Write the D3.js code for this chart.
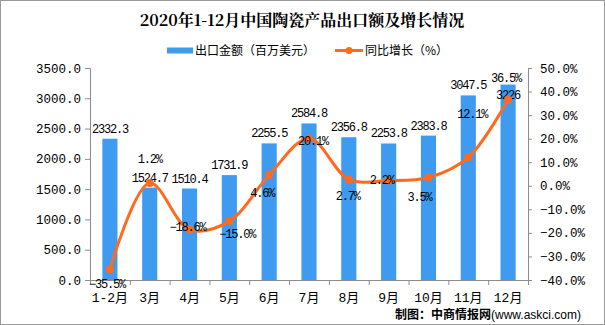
<!DOCTYPE html>
<html><head><meta charset="utf-8">
<script src="https://cdn.jsdelivr.net/npm/d3@7"></script>
<style>body{margin:0;background:#fff}svg{display:block}</style>
</head><body>
<svg id="c" width="605" height="325"></svg>
<script>
const categories = ["1-2月","3月","4月","5月","6月","7月","8月","9月","10月","11月","12月"];
const exportValues = [2332.3,1524.7,1510.4,1731.9,2255.5,2584.8,2356.8,2253.8,2383.8,3047.5,3226];
const exportLabels = ["2332.3","1524.7","1510.4","1731.9","2255.5","2584.8","2356.8","2253.8","2383.8","3047.5","3226"];
const growthValues = [-35.5,1.2,-18.6,-15.0,4.6,20.1,2.7,2.2,3.5,12.1,36.5];
const leftTicks = [0,500,1000,1500,2000,2500,3000,3500];
const rightTicks = [-40,-30,-20,-10,0,10,20,30,40,50];
// label offsets (dx, dy) for growth labels (style only)
const growthLabelOffsets = [[-3,15],[0,-24],[-2,-3],[8,13],[-7,18],[4,3],[-1,17],[-7,-1],[-9,19],[4,-43],[-2,-22]];

const svg = d3.select("#c");
const mono = "'Liberation Mono','Noto Sans CJK SC',monospace";
const cjk = "'Noto Sans CJK SC','Liberation Mono',sans-serif";

svg.append("rect").attr("x",0.5).attr("y",0.5).attr("width",604).attr("height",324)
  .attr("fill","#fff").attr("stroke","#9a9a9a");

const L = 90, R = 528, T = 68, B = 280;
const x = d3.scaleBand().domain(categories).range([L,R]).paddingInner(0.62).paddingOuter(0.31);
const xc = d => x(d) + x.bandwidth()/2;
const yL = d3.scaleLinear().domain([0,3500]).range([B,T]);
const yR = d3.scaleLinear().domain([-40,50]).range([B,T]);

// title
svg.append("text").attr("x",302).attr("y",26).attr("text-anchor","middle")
  .attr("font-family","'Noto Serif CJK SC','Noto Sans CJK SC',serif").attr("font-weight","bold")
  .attr("font-size",16).text("2020年1-12月中国陶瓷产品出口额及增长情况");

// legend
svg.append("rect").attr("x",167).attr("y",47.5).attr("width",26).attr("height",6).attr("fill","#3E9BEF");
svg.append("text").attr("x",195).attr("y",55).attr("font-family",cjk).attr("font-size",12).text("出口金额（百万美元）");
svg.append("line").attr("x1",335).attr("x2",363).attr("y1",50.5).attr("y2",50.5).attr("stroke","#FF6A1F").attr("stroke-width",3);
svg.append("circle").attr("cx",349).attr("cy",50.5).attr("r",3.5).attr("fill","#FF6A1F");
svg.append("text").attr("x",365).attr("y",55).attr("font-family",cjk).attr("font-size",12).text("同比增长（%）");

// axes
const axL = svg.append("g").attr("transform",`translate(${L},0)`)
  .call(d3.axisLeft(yL).tickValues(leftTicks).tickFormat(d3.format(".1f")).tickSize(5).tickPadding(4));
const axR = svg.append("g").attr("transform",`translate(${R},0)`)
  .call(d3.axisRight(yR).tickValues(rightTicks).tickFormat(d => d3.format(".1f")(d)+"%").tickSize(4).tickPadding(8));
const boundaries = d3.range(categories.length+1).map(i => L + i*(R-L)/categories.length);
const xb = d3.scaleLinear().domain([L,R]).range([L,R]);
const axB = svg.append("g").attr("transform",`translate(0,${B})`)
  .call(d3.axisBottom(xb).tickValues(boundaries).tickFormat("").tickSize(5));
[axL,axR,axB].forEach(a => {
  a.select(".domain").attr("stroke","#8c8c8c");
  a.selectAll(".tick line").attr("stroke","#8c8c8c");
  a.selectAll("text").attr("font-family",mono).attr("font-size",12.5).attr("fill","#000");
});
axB.select(".domain").attr("d",`M${L},0.5H${R}`);

// category labels
svg.append("g").selectAll("text").data(categories).join("text")
  .attr("x",d => xc(d)).attr("y",302).attr("text-anchor","middle")
  .attr("font-family",mono).attr("font-size",13).text(d => d);

// bars
svg.append("g").selectAll("rect").data(exportValues).join("rect")
  .attr("x",(d,i) => x(categories[i])).attr("width",x.bandwidth())
  .attr("y",d => yL(d)).attr("height",d => B - yL(d)).attr("fill","#3E9BEF");

// bar labels
svg.append("g").selectAll("text").data(exportValues).join("text")
  .attr("x",(d,i) => xc(categories[i]))
  .attr("y",(d,i) => i === categories.length-1 ? yL(d)+14.5 : yL(d)-6)
  .attr("text-anchor","middle").attr("font-family",mono).attr("font-size",12).attr("letter-spacing",-1.2)
  .text((d,i) => exportLabels[i]);

// line
const line = d3.line().x((d,i) => xc(categories[i])).y(d => yR(d)).curve(d3.curveCatmullRom.alpha(0.5));
svg.append("path").datum(growthValues).attr("d",line).attr("fill","none")
  .attr("stroke","#FF6A1F").attr("stroke-width",3);
svg.append("g").selectAll("circle").data(growthValues).join("circle")
  .attr("cx",(d,i) => xc(categories[i])).attr("cy",d => yR(d)).attr("r",4).attr("fill","#FF6A1F");

// growth labels
svg.append("g").selectAll("text").data(growthValues).join("text")
  .attr("x",(d,i) => xc(categories[i]) + growthLabelOffsets[i][0])
  .attr("y",(d,i) => yR(d) + growthLabelOffsets[i][1] + 4)
  .attr("text-anchor","middle").attr("font-family",mono).attr("font-size",12).attr("letter-spacing",-1.2)
  .text(d => d3.format(".1f")(d)+"%");

// footer
svg.append("text").attr("x",581).attr("y",319).attr("text-anchor","end").attr("font-size",12)
  .call(t => {
    t.append("tspan").attr("font-family",cjk).attr("font-weight","bold").text("制图：中商情报网");
    t.append("tspan").attr("font-family","'Liberation Sans',Arial,sans-serif").text("(www.askci.com)");
  });
</script>
</body></html>
